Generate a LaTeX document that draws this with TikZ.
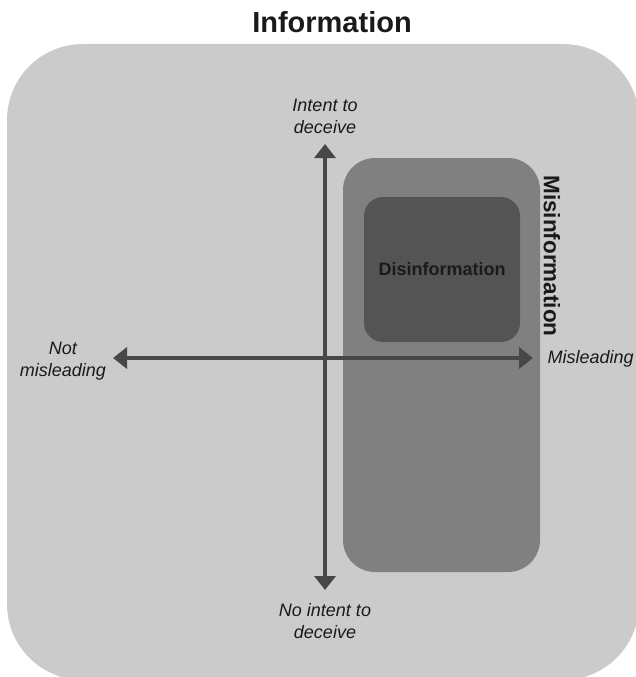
\documentclass[tikz,border=0pt]{standalone}
\usepackage{fontspec}
\setmainfont{Liberation Sans}
\usetikzlibrary{arrows.meta}
\definecolor{infogray}{HTML}{CBCBCB}
\definecolor{misgray}{HTML}{808080}
\definecolor{disgray}{HTML}{545454}
\definecolor{axisgray}{HTML}{474747}
\definecolor{inkgray}{HTML}{1A1A1A}
\tikzset{
  panel/.style={inner sep=0pt, draw=none},
  axislabel/.style={align=center, text=inkgray, font=\fontsize{18}{22}\selectfont\itshape},
  axis/.style={axisgray, line width=4pt, {Triangle[width=21pt,length=14pt]}-{Triangle[width=21pt,length=14pt]}}
}
\begin{document}
\begin{tikzpicture}[x=1pt, y=-1pt]
        \useasboundingbox (0, 0) rectangle (636, 677);
        % panels
        \node[panel, fill=infogray, minimum width=632pt, minimum height=636pt, rounded corners=76pt] (info) at (323, 362) {};
        \node[panel, fill=misgray, minimum width=197pt, minimum height=414pt, rounded corners=32pt] (mis) at (441.5, 365) {};
        \node[panel, fill=disgray, minimum width=156pt, minimum height=145pt, rounded corners=19pt, text=inkgray, font=\fontsize{18}{21}\selectfont\bfseries] (dis) at (442, 269.5) {Disinformation};
        % titles
        \node[text=inkgray, font=\fontsize{29}{34}\selectfont\bfseries] (infotitle) at (332, 22) {Information};
        \node[rotate=-90, text=inkgray, font=\fontsize{22.5}{26}\selectfont\bfseries] (mistitle) at (552, 256) {Misinformation};
        % axes
        \coordinate (top) at (325, 144);
        \coordinate (bottom) at (325, 590);
        \coordinate (left) at (113, 358);
        \coordinate (right) at (533, 358);
        \draw[axis] (bottom) -- (top);
        \draw[axis] (left) -- (right);
        \node[axislabel] (intent) at (325, 116) {Intent to\\deceive};
        \node[axislabel] (nointent) at (325, 621) {No intent to\\deceive};
        \node[axislabel] (notmis) at (63, 361) {Not\\misleading};
        \node[axislabel, anchor=west] (misl) at (544, 359) {Misleading};
    \end{tikzpicture}
\end{document}
